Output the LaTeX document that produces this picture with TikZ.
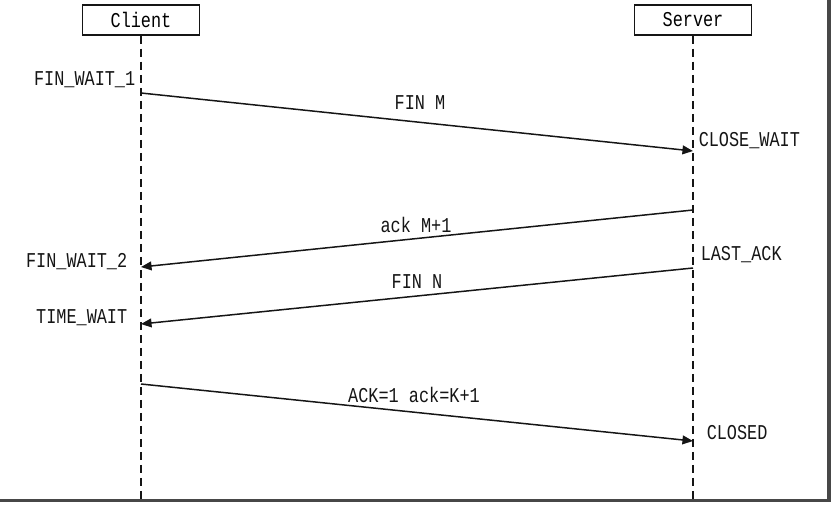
\documentclass[tikz,border=0pt]{standalone}
\usepackage{fontspec}
\newfontfamily\seqfont[FakeStretch=0.8]{Liberation Mono}
\usetikzlibrary{arrows.meta, positioning}
\definecolor{cline}{HTML}{151515}
\definecolor{cframe}{HTML}{474747}
\tikzset{
  every picture/.style={font=\seqfont\fontsize{12pt}{14pt}\selectfont, line width=0.85pt},
  party/.style={draw=cline, minimum width=2.34cm, minimum height=0.6cm, inner sep=0pt},
  life/.style={draw=cline, line width=1pt, dash pattern=on 4.8pt off 2.6pt},
  msg/.style={-{Triangle[length=6pt, width=5pt]}, draw=cline},
  stlabel/.style={inner sep=0pt, text=cline},
  frame/.style={draw=cframe, line width=1.8pt},
}

\begin{document}
\begin{tikzpicture}[x=0.02cm, y=-0.02cm]
  \useasboundingbox (0,0) rectangle (832,504);
  \node[party] (client) at (141,20) {Client};
  \node[party] (server) at (693,20) {Server};
  \draw[life] (client.south) -- (client |- 0,499);
  \draw[life] (server.south) -- (server |- 0,499);
  % message end points on the lifelines
  \coordinate (c1) at (client |- 0,93);  \coordinate (s1) at (server |- 0,151);
  \coordinate (s2) at (server |- 0,210); \coordinate (c2) at (client |- 0,267);
  \coordinate (s3) at (server |- 0,268); \coordinate (c3) at (client |- 0,324);
  \coordinate (c4) at (client |- 0,384); \coordinate (s4) at (server |- 0,441);
  \draw[msg] (c1) -- (s1); \draw[msg] (s2) -- (c2);
  \draw[msg] (s3) -- (c3); \draw[msg] (c4) -- (s4);
  \node[stlabel] (finm) at (420,103) {FIN M};
  \node[stlabel] (ackm) at (416,225) {ack M+1};
  \node[stlabel] (finn) at (417,282) {FIN N};
  \node[stlabel] (ackk) at (414,395) {ACK=1 ack=K+1};
  \node[stlabel, anchor=east] (fw1) at (136,80) {FIN\_WAIT\_1};
  \node[stlabel, anchor=west] (cw) at (698,141) {CLOSE\_WAIT};
  \node[stlabel, anchor=east] (fw2) at (128,262) {FIN\_WAIT\_2};
  \node[stlabel, anchor=west] (la) at (700,255) {LAST\_ACK};
  \node[stlabel, anchor=east] (tw) at (128,318) {TIME\_WAIT};
  \node[stlabel, anchor=west] (cl) at (706,433) {CLOSED};
  \draw[frame] (829,0) -- (829,500.5) -- (0,500.5);
\end{tikzpicture}
\end{document}
